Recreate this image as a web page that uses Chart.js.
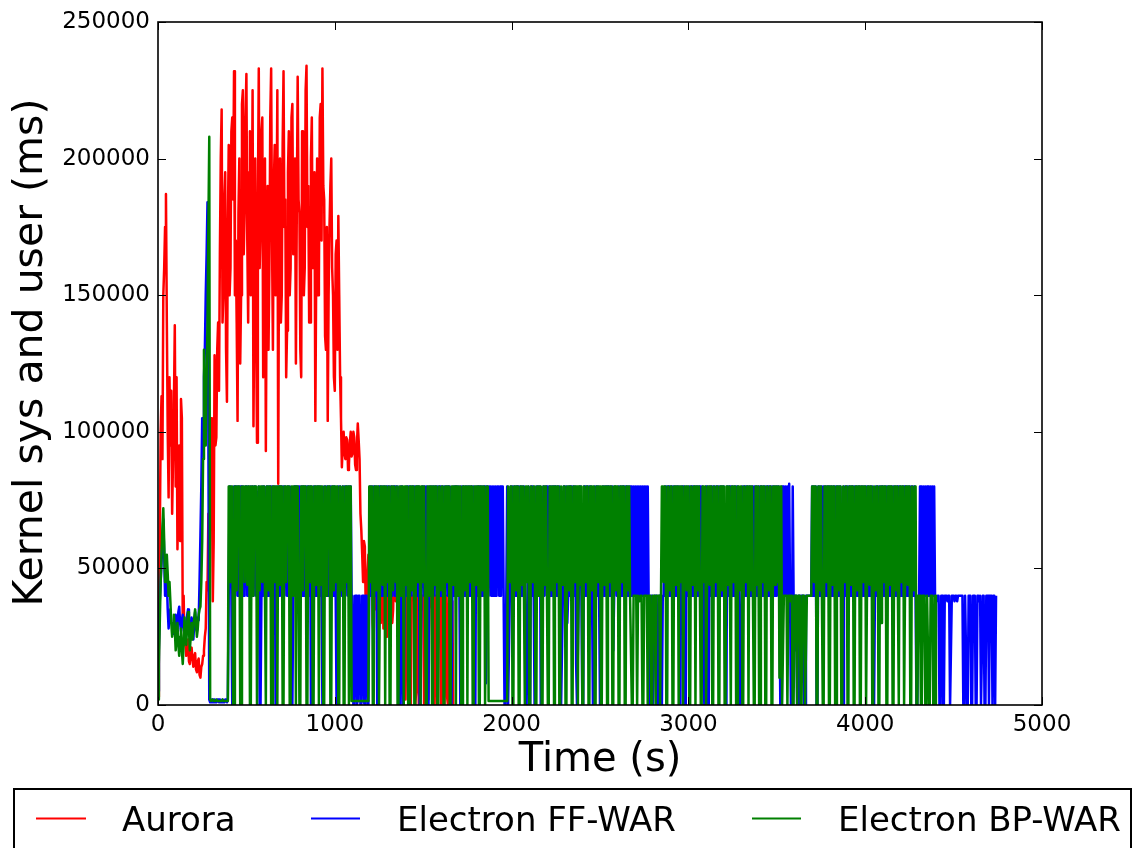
<!DOCTYPE html>
<html>
<head>
<meta charset="utf-8">
<script src="https://cdn.jsdelivr.net/npm/chart.js@4.4.1/dist/chart.umd.min.js"></script>
<style>
  html, body { margin: 0; padding: 0; background: #ffffff; }
  canvas { display: block; }
</style>
</head>
<body>
<canvas id="chart" width="1139" height="848"></canvas>
<script>
// Sampling interval of the monitoring runs (seconds between samples)
const SAMPLE_STEP_S = 5;

const seriesNames  = ['Aurora', 'Electron FF-WAR', 'Electron BP-WAR'];
const seriesColors = ['#ff0000', '#0000ff', '#008000'];

const xTickValues = [0, 1000, 2000, 3000, 4000, 5000];
const yTickValues = [0, 50000, 100000, 150000, 200000, 250000];

// Kernel sys + user time per sample, in thousands of ms (one row = 50 s)
const auroraK = [
  3,20,60,100,113,90,150,160,175,187,          // 0 s
  140,100,76,120,95,115,70,90,110,139,         // 50
  80,120,57,75,95,60,112,105,29,40,            // 100
  22,25,18,20,24,16,15,19,21,17,               // 150
  14,18,19,13,12,16,17,11,10,14,               // 200
  15,18,20,25,28,45,42,70,36,90,               // 250
  105,80,38,60,128,95,98,130,140,115,          // 300
  165,200,218,140,150,185,195,130,111,175,     // 350
  205,150,160,210,215,185,232,150,170,140,     // 400
  104,180,200,125,150,220,225,165,180,215,     // 450
  231,170,140,195,210,150,165,225,102,150,     // 500
  200,140,96,185,233,160,175,210,215,120,      // 550
  140,200,93,160,190,130,160,215,233,170,      // 600
  130,190,205,150,170,225,81,180,200,140,      // 650
  150,205,232,175,185,120,137,195,210,150,     // 700
  160,215,220,165,175,200,125,180,230,185,     // 750
  180,130,120,210,205,150,160,225,234,175,     // 800
  190,140,140,200,215,160,170,195,104,160,     // 850
  200,150,155,215,220,170,233,190,185,135,     // 900
  130,175,104,150,175,190,200,160,150,120,     // 950
  115,165,170,130,179,150,120,105,87,95,       // 1000
  100,92,90,98,97,86,88,96,100,91,             // 1050
  92,100,98,88,86,95,103,97,90,70,             // 1100
  64,55,45,60,58,35,22,48,55,40,               // 1150
  40,55,60,30,25,45,52,35,38,58,               // 1200
  62,40,30,48,55,28,45,60,25,42,               // 1250
  58,35,42,55,60,30,35,52,55,38,               // 1300
  40,50,48,25,20,45,45,30,40,42,               // 1350
  2,30,40,10,30,40,0,38,40,40,                 // 1400
  38,0,5,40,40,0,0,38,35,40,                   // 1450
  40,0,0,40,40,2,2,40,40,38,                   // 1500
  35,0,0,40,40,0,0,40,38,40,                   // 1550
  0,40,40,0,0,40,40,3,0,40,                    // 1600
  40,0,0,38,0                                  // 1650
];

const ffWarK = [
  5,20,38,45,52,60,68,55,40,50,                // 0 s
  45,35,28,32,35,30,30,28,26,30,               // 50
  33,30,28,34,36,30,27,31,33,29,               // 100
  25,28,30,33,35,30,28,26,32,30,               // 150
  24,30,34,28,27,32,31,45,62,80,               // 200
  105,95,120,130,150,165,184,100,2,1,          // 250
  1,2,2,1,2,1,1,2,2,1,                         // 300
  2,1,1,2,1,1,2,2,1,2,                         // 350
  40,80,80,40,0,0,80,40,80,80,                 // 400
  40,80,40,80,80,40,80,40,40,80,               // 450
  80,40,80,40,78,80,40,80,40,80,               // 500
  80,40,78,40,80,0,0,40,80,40,                 // 550
  80,80,40,80,40,80,40,80,80,40,               // 600
  80,40,80,0,0,80,40,80,40,80,                 // 650
  80,40,80,40,80,76,40,80,40,80,               // 700
  76,0,0,40,80,80,40,80,40,80,                 // 750
  80,40,80,40,80,80,40,80,40,80,               // 800
  80,40,80,0,0,40,80,40,80,40,                 // 850
  80,40,80,40,80,40,0,0,80,40,                 // 900
  80,40,80,40,80,80,40,80,40,80,               // 950
  80,40,0,0,80,40,80,80,40,80,                 // 1000
  40,80,40,80,80,40,80,40,80,40,               // 1050
  40,0,0,40,40,0,2,40,40,0,                    // 1100
  0,40,40,1,0,40,40,0,0,40,                    // 1150
  80,40,80,40,80,80,40,80,0,0,                 // 1200
  80,40,80,40,80,40,80,80,40,80,               // 1250
  80,40,80,40,80,40,80,80,40,80,               // 1300
  40,80,76,0,0,80,40,0,0,40,                   // 1350
  40,80,40,80,40,80,40,80,80,40,               // 1400
  80,40,80,40,80,80,0,0,40,80,                 // 1450
  80,40,80,40,80,0,0,80,40,80,                 // 1500
  40,80,40,80,80,40,80,40,80,40,               // 1550
  80,40,80,40,80,40,80,80,40,80,               // 1600
  80,0,0,40,80,40,80,40,80,40,                 // 1650
  80,40,0,80,40,80,80,40,80,40,                // 1700
  80,40,80,40,80,80,40,80,0,0,                 // 1750
  80,40,80,40,80,80,40,80,40,80,               // 1800
  80,8,40,80,40,80,80,40,80,40,                // 1850
  80,40,80,40,80,80,40,80,40,80,               // 1900
  80,40,0,0,40,80,0,0,40,80,                   // 1950
  40,80,40,80,40,80,40,80,80,40,               // 2000
  80,40,80,40,80,40,0,0,40,80,                 // 2050
  0,0,80,40,80,40,0,0,80,40,                   // 2100
  80,40,80,0,0,40,80,40,80,80,                 // 2150
  40,80,40,80,40,80,40,80,80,40,               // 2200
  80,40,80,40,80,40,0,0,40,80,                 // 2250
  80,40,80,30,40,80,40,80,80,40,               // 2300
  80,40,80,15,0,0,40,80,80,40,                 // 2350
  0,0,80,40,80,40,80,40,80,40,                 // 2400
  80,40,0,0,80,40,80,40,80,40,                 // 2450
  0,0,40,80,40,80,40,80,80,40,                 // 2500
  80,40,80,40,80,20,40,80,80,40,               // 2550
  40,80,40,80,40,80,40,80,40,80,               // 2600
  80,40,80,40,80,40,80,40,80,40,               // 2650
  80,40,80,40,80,40,80,40,80,40,               // 2700
  80,40,80,40,80,40,0,0,40,40,                 // 2750
  0,0,40,40,40,0,0,40,40,0,                    // 2800
  0,40,40,80,40,80,40,80,40,80,                // 2850
  40,80,40,80,40,80,40,80,40,80,               // 2900
  0,0,80,40,80,40,0,0,80,40,                   // 2950
  40,80,40,80,40,80,40,80,80,40,               // 3000
  80,40,80,40,80,40,80,40,0,0,                 // 3050
  80,40,0,0,80,40,80,40,80,40,                 // 3100
  80,40,80,40,80,40,80,40,80,40,               // 3150
  80,40,0,0,80,40,80,40,80,40,                 // 3200
  80,40,80,40,80,40,80,40,0,0,                 // 3250
  40,80,40,80,40,80,40,80,40,80,               // 3300
  40,80,40,80,40,80,40,80,40,80,               // 3350
  40,80,40,80,40,80,40,80,40,80,               // 3400
  40,80,40,80,40,80,40,80,40,80,               // 3450
  40,80,80,40,0,0,80,40,80,40,                 // 3500
  80,40,80,40,81,40,0,0,80,40,                 // 3550
  20,40,40,0,0,40,40,30,40,40,                 // 3600
  40,0,0,40,40,40,40,40,40,40,                 // 3650
  80,40,80,40,80,0,0,80,40,80,                 // 3700
  40,80,40,80,40,80,40,80,40,80,               // 3750
  80,40,80,40,80,40,80,40,80,40,               // 3800
  80,40,80,40,0,0,80,40,80,40,                 // 3850
  80,40,80,40,80,40,80,40,80,40,               // 3900
  80,40,80,40,80,40,80,40,80,40,               // 3950
  80,40,80,40,80,40,80,40,80,40,               // 4000
  0,0,80,40,80,40,80,40,80,40,                 // 4050
  80,40,80,40,80,40,80,40,80,40,               // 4100
  80,40,80,40,80,40,80,40,80,40,               // 4150
  80,40,80,40,80,40,80,40,80,40,               // 4200
  80,40,80,40,80,40,80,40,0,0,                 // 4250
  40,40,80,40,80,40,80,40,80,40,               // 4300
  80,40,80,40,80,40,80,40,80,40,               // 4350
  40,38,40,40,0,0,40,40,0,0,                   // 4400
  40,40,40,38,40,40,0,0,40,40,                 // 4450
  40,38,40,40,38,40,40,40,40,40,               // 4500
  40,0,0,40,40,0,0,40,40,40,                   // 4550
  0,0,40,40,40,0,0,40,40,38,                   // 4600
  40,0,0,40,40,0,0,40,40,40,                   // 4650
  0,40,40,40,0,40,40,0,40,40                   // 4700
];

const bpWarK = [
  2,15,30,45,55,65,72,60,45,50,                // 0 s
  55,48,40,45,38,30,25,30,33,28,               // 50
  20,25,30,22,18,25,28,20,15,22,               // 100
  32,25,22,30,34,28,20,25,30,24,               // 150
  28,32,35,30,25,28,33,35,36,45,               // 200
  60,90,130,110,95,120,140,175,208,2,          // 250
  1.5,1.5,2,1.5,1.5,1.5,2,1.5,1.5,1.5,         // 300
  1.5,1.5,1.5,2,1.5,1.5,1.5,1.5,1.5,1.5,       // 350
  80,80,45,80,80,0,0,80,80,42,                 // 400
  80,80,80,0,0,80,75,80,45,80,                 // 450
  80,44,80,80,0,0,80,80,40,80,                 // 500
  80,80,0,0,80,42,80,80,45,80,                 // 550
  80,80,0,80,80,42,80,80,0,0,                  // 600
  80,80,45,80,80,0,80,80,44,80,                // 650
  80,0,0,80,80,45,80,80,80,0,                  // 700
  0,80,80,40,80,80,0,80,80,45,                 // 750
  0,0,80,80,42,80,80,80,0,0,                   // 800
  80,80,45,80,80,0,0,80,80,44,                 // 850
  80,80,0,80,44,80,80,0,0,80,                  // 900
  80,40,80,80,80,0,0,80,80,42,                 // 950
  80,45,80,80,0,0,80,80,42,80,                 // 1000
  0,0,80,80,45,80,0,80,80,1.5,                 // 1050
  1.5,1.5,1.5,1.5,1.5,1.5,1.5,1.5,1.5,1.5,     // 1100
  1.5,1.5,1.5,1.5,1.5,1.5,1.5,1.5,1.5,80,      // 1150
  80,45,80,0,0,80,80,42,80,80,                 // 1200
  0,0,80,80,44,80,80,0,80,80,                  // 1250
  45,80,0,0,80,80,42,80,80,45,                 // 1300
  80,0,0,80,80,40,80,80,0,80,                  // 1350
  80,44,80,0,0,80,80,42,80,80,                 // 1400
  0,0,80,80,45,80,80,0,80,80,                  // 1450
  45,80,80,0,0,80,80,40,80,80,                 // 1500
  0,80,80,44,80,80,0,0,80,80,                  // 1550
  42,80,80,0,0,80,80,45,80,80,                 // 1600
  0,0,80,80,44,80,80,0,80,80,                  // 1650
  40,80,80,0,0,80,80,42,80,80,                 // 1700
  0,80,80,45,80,80,0,0,80,80,                  // 1750
  44,80,80,0,0,80,80,42,80,80,                 // 1800
  0,0,80,80,1.5,1.5,1.5,1.5,1.5,1.5,           // 1850
  1.5,1.5,1.5,1.5,1.5,1.5,1.5,1.5,1.5,1.5,     // 1900
  1.5,1.5,1.5,1.5,1.5,1.5,80,80,45,80,         // 1950
  80,0,0,80,80,42,80,80,0,0,                   // 2000
  80,80,44,80,80,0,80,80,45,80,                // 2050
  0,0,80,80,45,80,80,0,0,80,                   // 2100
  80,40,80,80,0,0,80,80,44,80,                 // 2150
  80,0,0,80,80,42,80,80,0,80,                  // 2200
  80,45,80,80,0,0,80,80,44,80,                 // 2250
  80,0,0,80,80,42,80,80,0,0,                   // 2300
  80,80,45,80,80,0,80,80,44,80,                // 2350
  0,0,80,80,45,80,80,0,0,80,                   // 2400
  80,42,80,80,0,0,80,80,45,80,                 // 2450
  80,0,0,80,80,44,80,80,0,80,                  // 2500
  80,45,80,80,0,0,80,80,42,80,                 // 2550
  80,0,0,80,80,45,80,80,0,0,                   // 2600
  80,80,42,80,40,40,0,0,40,40,                 // 2650
  40,40,0,40,40,38,40,40,0,0,                  // 2700
  40,40,40,40,0,40,40,40,0,0,                  // 2750
  40,40,40,0,40,40,40,40,0,0,                  // 2800
  80,80,45,80,80,0,0,80,80,42,                 // 2850
  80,80,0,0,80,80,44,80,80,0,                  // 2900
  80,80,45,80,0,0,80,80,42,80,                 // 2950
  80,0,0,80,80,44,80,80,0,80,                  // 3000
  80,42,80,80,0,0,80,80,45,80,                 // 3050
  0,0,80,80,44,80,80,0,0,80,                   // 3100
  80,45,80,80,0,0,80,80,42,80,                 // 3150
  80,0,0,80,80,44,80,80,0,80,                  // 3200
  80,45,80,80,0,0,80,80,42,80,                 // 3250
  80,0,0,80,80,45,80,80,0,80,                  // 3300
  80,42,80,80,0,0,80,80,44,80,                 // 3350
  0,0,80,80,45,80,80,0,0,80,                   // 3400
  80,42,80,80,0,0,80,80,44,80,                 // 3450
  80,45,80,10,80,80,0,0,40,40,                 // 3500
  40,40,0,40,40,38,40,40,0,0,                  // 3550
  40,40,40,0,40,40,40,0,0,40,                  // 3600
  40,40,0,0,40,40,40,40,40,40,                 // 3650
  80,80,45,80,80,0,0,80,80,42,                 // 3700
  80,80,0,0,80,80,45,80,80,0,                  // 3750
  0,80,80,44,80,80,0,0,80,80,                  // 3800
  42,80,80,0,0,80,80,45,80,80,                 // 3850
  0,0,80,80,44,80,80,0,0,80,                   // 3900
  80,42,80,80,0,0,80,80,45,80,                 // 3950
  80,0,0,80,80,44,80,80,0,0,                   // 4000
  80,80,42,80,80,0,0,80,30,80,                 // 4050
  80,45,80,80,0,0,80,80,44,80,                 // 4100
  80,0,0,80,80,42,80,80,0,80,                  // 4150
  80,45,80,80,0,0,80,80,44,80,                 // 4200
  80,0,0,80,80,42,80,80,0,0,                   // 4250
  40,40,40,0,0,40,40,40,0,0,                   // 4300
  40,40,0,0,40,40,40,0,0,40,                   // 4350
  0                                            // 4400
];

const seriesValuesK = [auroraK, ffWarK, bpWarK];

function toPoints(valuesK) {
  return valuesK.map((v, i) => ({ x: i * SAMPLE_STEP_S, y: v * 1000 }));
}

const FONT = '"DejaVu Sans", "Liberation Sans", sans-serif';

// Inward tick marks on all four sides, the axes frame, the vertical axis title
// and the boxed legend under the plot
const axesDecor = {
  id: 'axesDecor',
  afterDatasetsDraw(chart) {
    const { ctx, chartArea: a, scales: { x, y } } = chart;
    const L = 8;
    ctx.save();
    ctx.strokeStyle = '#000';
    ctx.lineWidth = 1;
    ctx.beginPath();
    xTickValues.forEach(v => {
      const px = Math.round(x.getPixelForValue(v)) + 0.5;
      ctx.moveTo(px, a.bottom); ctx.lineTo(px, a.bottom - L);
      ctx.moveTo(px, a.top);    ctx.lineTo(px, a.top + L);
    });
    yTickValues.forEach(v => {
      const py = Math.round(y.getPixelForValue(v)) + 0.5;
      ctx.moveTo(a.left, py);  ctx.lineTo(a.left + L, py);
      ctx.moveTo(a.right, py); ctx.lineTo(a.right - L, py);
    });
    ctx.stroke();
    ctx.lineWidth = 1.6;
    ctx.strokeRect(a.left, a.top, a.right - a.left, a.bottom - a.top);
    ctx.restore();
  },
  afterDraw(chart) {
    const { ctx } = chart;

    // vertical axis title
    ctx.save();
    ctx.translate(31, 352.5);
    ctx.rotate(-Math.PI / 2);
    ctx.font = '41px ' + FONT;
    ctx.fillStyle = '#000';
    ctx.textAlign = 'center';
    ctx.textBaseline = 'middle';
    ctx.fillText('Kernel sys and user (ms)', 0, 0);
    ctx.restore();

    // legend
    const box = { left: 14, top: 789, right: 1131, bottom: 880 };
    const swatches = [[36, 86], [311, 360], [752, 801]];
    const textX = [122, 397, 838];
    const lineY = 818.5;
    ctx.save();
    ctx.strokeStyle = '#000';
    ctx.lineWidth = 2;
    ctx.strokeRect(box.left, box.top, box.right - box.left, box.bottom - box.top);
    ctx.font = '34px ' + FONT;
    ctx.textBaseline = 'alphabetic';
    ctx.textAlign = 'left';
    chart.data.datasets.forEach((ds, i) => {
      const [x0, x1] = swatches[i];
      ctx.strokeStyle = ds.borderColor;
      ctx.lineWidth = 2;
      ctx.beginPath();
      ctx.moveTo(x0, lineY); ctx.lineTo(x1, lineY);
      ctx.stroke();
      ctx.fillStyle = '#000';
      ctx.fillText(ds.label, textX[i], 831);
    });
    ctx.restore();
  }
};

new Chart(document.getElementById('chart'), {
  type: 'line',
  data: {
    datasets: seriesNames.map((name, i) => ({
      label: name,
      data: toPoints(seriesValuesK[i]),
      borderColor: seriesColors[i],
      backgroundColor: seriesColors[i],
      borderWidth: 2.5,
      borderJoinStyle: 'round',
      pointRadius: 0,
      fill: false,
      tension: 0,
      order: 3 - i
    }))
  },
  options: {
    responsive: false,
    animation: false,
    parsing: false,
    normalized: true,
    events: [],
    layout: { padding: { left: 0, right: 97, top: 22, bottom: 63 } },
    plugins: {
      legend: { display: false },
      tooltip: { enabled: false },
      title: { display: false }
    },
    scales: {
      x: {
        type: 'linear',
        min: 0, max: 5000,
        afterFit(scale) { scale.height = 80; },
        afterBuildTicks(scale) { scale.ticks = xTickValues.map(v => ({ value: v })); },
        grid: { display: false, drawTicks: false },
        border: { display: false },
        ticks: {
          color: '#000',
          padding: 6,
          maxRotation: 0,
          autoSkip: false,
          font: { family: FONT, size: 23 },
          callback: v => String(v)
        },
        title: {
          display: true,
          text: 'Time (s)',
          color: '#000',
          font: { family: FONT, size: 40 },
          padding: { top: 0, bottom: 0 }
        }
      },
      y: {
        type: 'linear',
        min: 0, max: 250000,
        afterFit(scale) { scale.width = 158; },
        afterBuildTicks(scale) { scale.ticks = yTickValues.map(v => ({ value: v })); },
        grid: { display: false, drawTicks: false },
        border: { display: false },
        ticks: {
          color: '#000',
          padding: 8,
          autoSkip: false,
          font: { family: FONT, size: 23 },
          callback: v => String(v)
        },
        title: { display: false }
      }
    }
  },
  plugins: [axesDecor]
});
</script>
</body>
</html>
